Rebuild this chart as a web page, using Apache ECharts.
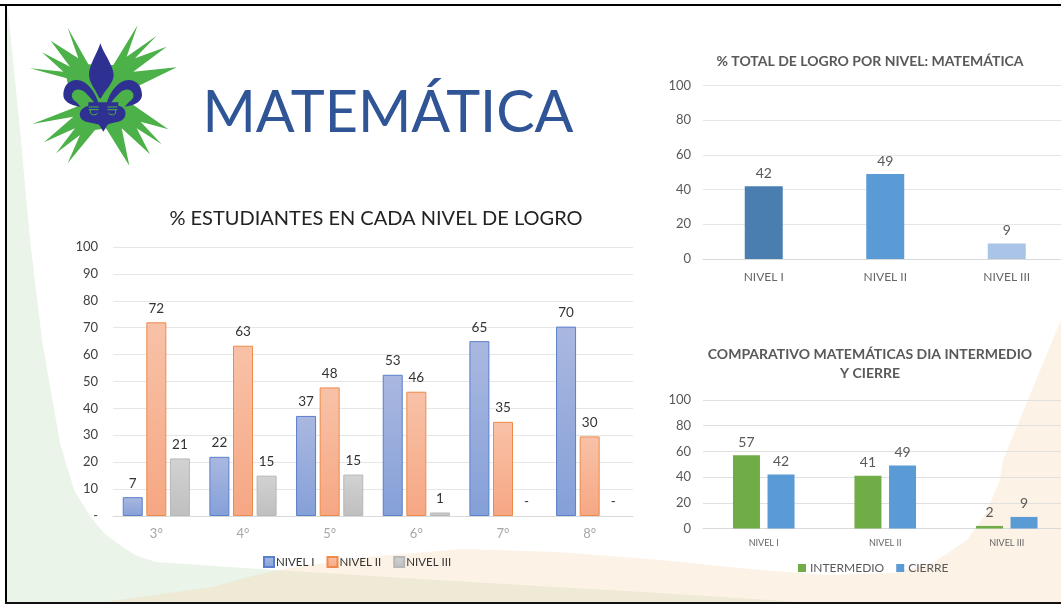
<!DOCTYPE html>
<html><head><meta charset="utf-8">
<style>html,body{margin:0;padding:0;background:#fff}#c{width:1061px;height:605px}</style>
<script src="https://cdn.jsdelivr.net/npm/echarts@6/dist/echarts.min.js"></script>
</head><body><div id="c"></div>
<script>
const grades = ['3°','4°','5°','6°','7°','8°'];
const nivelI = [7, 22, 37.2, 52.5, 65, 70.4];
const nivelII = [72, 63.3, 47.8, 46.2, 35, 29.6];
const nivelIII = [21.4, 15, 15.4, 1.3, 0, 0];
const levels = ['NIVEL I','NIVEL II','NIVEL III'];
const totalLogro = [42, 49, 9];
const intermedio = [57, 41, 2];
const cierre = [42, 49, 9];

const FONT = 'Lato';
const vGrad = (a, b) => ({type:'linear',x:0,y:0,x2:0,y2:1,colorStops:[{offset:0,color:a},{offset:1,color:b}]});
const dashZero = p => Math.round(p.value) === 0 ? '-' : String(Math.round(p.value));
const noBorderOnZero = arr => arr.map(v => v === 0 ? {value:v,itemStyle:{borderWidth:0,color:'transparent',borderColor:'transparent'}} : v);

const greenPts = [[7,6],[10,30],[20,130],[30,240],[42,340],[60,443],[74,490],[90,516],[104,533],[117,543],[135,555],[156,562],[274,570],[470,582],[660,593],[815,603],[7,603]];
const orangePts = [[97,603],[213,587],[245,578],[278,570],[366,557],[462,549],[557,552],[660,560],[760,570],[827,575],[893,573],[933,563],[967,540],[985,515],[1000,480],[1003,460],[1061,320],[1061,603]];
const zoomToPx = p => [p[0]/3+20, p[1]/3+15];
const starPts = [[143,38],[205,148],[240,150],[280,150],[353,30],[320,125],[410,62],[345,130],[440,95],[340,170],[470,157],[350,215],[340,270],[445,343],[362,320],[425,388],[350,340],[390,418],[305,340],[328,452],[258,340],[225,345],[143,445],[180,360],[108,415],[165,340],[72,382],[160,305],[37,327],[170,275],[150,240],[140,190],[30,160],[130,170],[66,112],[150,155],[92,77],[175,130]].map(zoomToPx);
const fleurPath = 'M241 85C250 115 280 150 281 180C281 205 255 225 243 250L238 250C228 225 207 205 207 178C207 150 232 115 241 85Z' +
 'M235 262C225 230 200 195 170 195C145 195 130 215 130 240C130 258 150 272 182 275L170 262C158 255 153 245 157 235C162 222 180 218 195 232C205 242 215 252 222 262Z' +
 'M261 262C271 230 296 195 326 195C351 195 366 215 366 240C366 258 346 272 314 275L326 262C338 255 343 245 339 235C334 222 316 218 301 232C291 242 281 252 274 262Z' +
 'M205 262L295 262L295 272C318 275 322 300 310 312C295 325 272 322 262 330L250 350L238 330C225 322 200 325 187 314C172 300 180 278 205 272Z';
const fleurDetail = 'M206 276L236 276M206 284L236 284M262 276L292 276M262 284L292 284M212 284C206 300 224 304 233 294M286 284C292 300 274 304 265 294';
echarts.graphic.registerShape('fleur', echarts.graphic.extendPath(fleurPath, {}));
echarts.graphic.registerShape('fleurDetail', echarts.graphic.extendPath(fleurDetail, {}));

const option = {
  animation:false,
  textStyle:{fontFamily:FONT},
  graphic:{elements:[
    {type:'polygon',z:-10,silent:true,shape:{points:greenPts},style:{fill:'#ebf4e8'}},
    {type:'polygon',z:-9,silent:true,shape:{points:orangePts},style:{fill:'rgba(247,203,155,0.25)'}},
    {type:'rect',z:-8,silent:true,shape:{x:0,y:4,width:1061,height:2},style:{fill:'#000'}},
    {type:'rect',z:-8,silent:true,shape:{x:5,y:4,width:2,height:600},style:{fill:'#000'}},
    {type:'rect',z:-8,silent:true,shape:{x:5,y:602,width:1056,height:2},style:{fill:'#111'}},
    {type:'polygon',z:-7,silent:true,shape:{points:starPts},style:{fill:'#4cb148'}},
    {type:'fleur',z:-6,silent:true,x:20,y:15,scaleX:1/3,scaleY:1/3,style:{fill:'#2e3192'}},
    {type:'fleurDetail',z:-5,silent:true,x:20,y:15,scaleX:1/3,scaleY:1/3,style:{fill:'none',stroke:'#4cb148',lineWidth:3}}
  ]},
  title:[
    {text:'MATEMÁTICA',left:388,top:113,textAlign:'center',textVerticalAlign:'middle',textStyle:{fontFamily:FONT,fontWeight:'normal',fontSize:57.5,color:'#2f5597'},padding:0},
    {text:'% ESTUDIANTES EN CADA NIVEL DE LOGRO',left:376,top:219,textAlign:'center',textVerticalAlign:'middle',textStyle:{fontFamily:FONT,fontWeight:'normal',fontSize:20,color:'#222'},padding:0},
    {text:'% TOTAL DE LOGRO POR NIVEL: MATEMÁTICA',left:870,top:61,textAlign:'center',textVerticalAlign:'middle',textStyle:{fontFamily:FONT,fontWeight:'bold',fontSize:14,color:'#595959'},padding:0},
    {text:'COMPARATIVO MATEMÁTICAS DIA INTERMEDIO\nY CIERRE',left:870,top:364,textAlign:'center',textVerticalAlign:'middle',textStyle:{fontFamily:FONT,fontWeight:'bold',fontSize:14,lineHeight:19,color:'#595959'},padding:0}
  ],
  legend:[
    {left:263,top:556,itemWidth:10,itemHeight:10,itemGap:12,padding:0,icon:'rect',data:['NIVEL I','NIVEL II','NIVEL III'],textStyle:{fontFamily:FONT,fontSize:11.5,color:'#333',padding:[0,0,0,-3]}},
    {left:798,top:562,itemWidth:8,itemHeight:8,itemGap:12,padding:0,icon:'rect',data:['INTERMEDIO','CIERRE'],textStyle:{fontFamily:FONT,fontSize:12,color:'#595959',padding:[0,0,0,-1]}}
  ],
  grid:[
    {left:113,top:247,width:520,height:269,outerBoundsMode:'none'},
    {left:703,top:85.5,width:364.5,height:173.5,outerBoundsMode:'none'},
    {left:703,top:400,width:364.5,height:128.5,outerBoundsMode:'none'}
  ],
  xAxis:[
    {type:'category',gridIndex:0,data:grades,axisTick:{show:false},axisLine:{lineStyle:{color:'#d9d9d9'}},axisLabel:{fontFamily:FONT,fontSize:13,color:'#a6a6a6',margin:11}},
    {type:'category',gridIndex:1,data:levels,axisTick:{show:false},axisLine:{lineStyle:{color:'#d9d9d9'}},axisLabel:{fontFamily:FONT,fontSize:12,color:'#666',margin:12}},
    {type:'category',gridIndex:2,data:levels,axisTick:{show:false},axisLine:{lineStyle:{color:'#d9d9d9'}},axisLabel:{fontFamily:FONT,fontSize:9,color:'#666',margin:10}}
  ],
  yAxis:[
    {type:'value',gridIndex:0,min:0,max:100,interval:10,axisLine:{show:false},axisTick:{show:false},splitLine:{lineStyle:{color:'#e6e6e6'}},axisLabel:{fontFamily:FONT,fontSize:13,color:'#404040',margin:15,formatter:v=>v===0?'-':String(v)}},
    {type:'value',gridIndex:1,min:0,max:100,interval:20,axisLine:{show:false},axisTick:{show:false},splitLine:{lineStyle:{color:'#e6e6e6'}},axisLabel:{fontFamily:FONT,fontSize:13,color:'#595959',margin:12}},
    {type:'value',gridIndex:2,min:0,max:100,interval:20,axisLine:{show:false},axisTick:{show:false},splitLine:{lineStyle:{color:'#e0e0e0'}},axisLabel:{fontFamily:FONT,fontSize:13,color:'#595959',margin:12}}
  ],
  series:[
    {name:'NIVEL I',type:'bar',xAxisIndex:0,yAxisIndex:0,data:noBorderOnZero(nivelI),barWidth:20,barGap:'18%',
      itemStyle:{color:vGrad('#aab8e0','#85a0d8'),borderColor:'#5a7fcb',borderWidth:1},
      label:{show:true,position:'top',distance:7,fontFamily:FONT,fontSize:13.5,color:'#333',formatter:dashZero}},
    {name:'NIVEL II',type:'bar',xAxisIndex:0,yAxisIndex:0,data:noBorderOnZero(nivelII),barWidth:20,barGap:'18%',
      itemStyle:{color:vGrad('#f8c2a8','#f6a783'),borderColor:'#ee8a4a',borderWidth:1},
      label:{show:true,position:'top',distance:7,fontFamily:FONT,fontSize:13.5,color:'#333',formatter:dashZero}},
    {name:'NIVEL III',type:'bar',xAxisIndex:0,yAxisIndex:0,data:noBorderOnZero(nivelIII),barWidth:20,barGap:'18%',
      itemStyle:{color:vGrad('#d2d2d2','#bfbfbf'),borderColor:'#b8b8b8',borderWidth:1},
      label:{show:true,position:'top',distance:7,fontFamily:FONT,fontSize:13.5,color:'#333',formatter:dashZero}},
    {name:'TOTAL',type:'bar',xAxisIndex:1,yAxisIndex:1,barWidth:38,
      data:totalLogro.map((v,i)=>({value:v,itemStyle:{color:['#4a7eb0','#5b9bd5','#a9c4e6'][i]}})),
      label:{show:true,position:'top',distance:6,fontFamily:FONT,fontSize:14,color:'#595959'}},
    {name:'INTERMEDIO',type:'bar',xAxisIndex:2,yAxisIndex:2,data:intermedio,barWidth:27,barGap:'28%',
      itemStyle:{color:'#70ad47'},
      label:{show:true,position:'top',distance:6,fontFamily:FONT,fontSize:14,color:'#595959'}},
    {name:'CIERRE',type:'bar',xAxisIndex:2,yAxisIndex:2,data:cierre,barWidth:27,barGap:'28%',
      itemStyle:{color:'#5b9bd5'},
      label:{show:true,position:'top',distance:6,fontFamily:FONT,fontSize:14,color:'#595959'}}
  ]
};
const chart = echarts.init(document.getElementById('c'),null,{renderer:'canvas'});
chart.setOption(option);
</script>
</body></html>
